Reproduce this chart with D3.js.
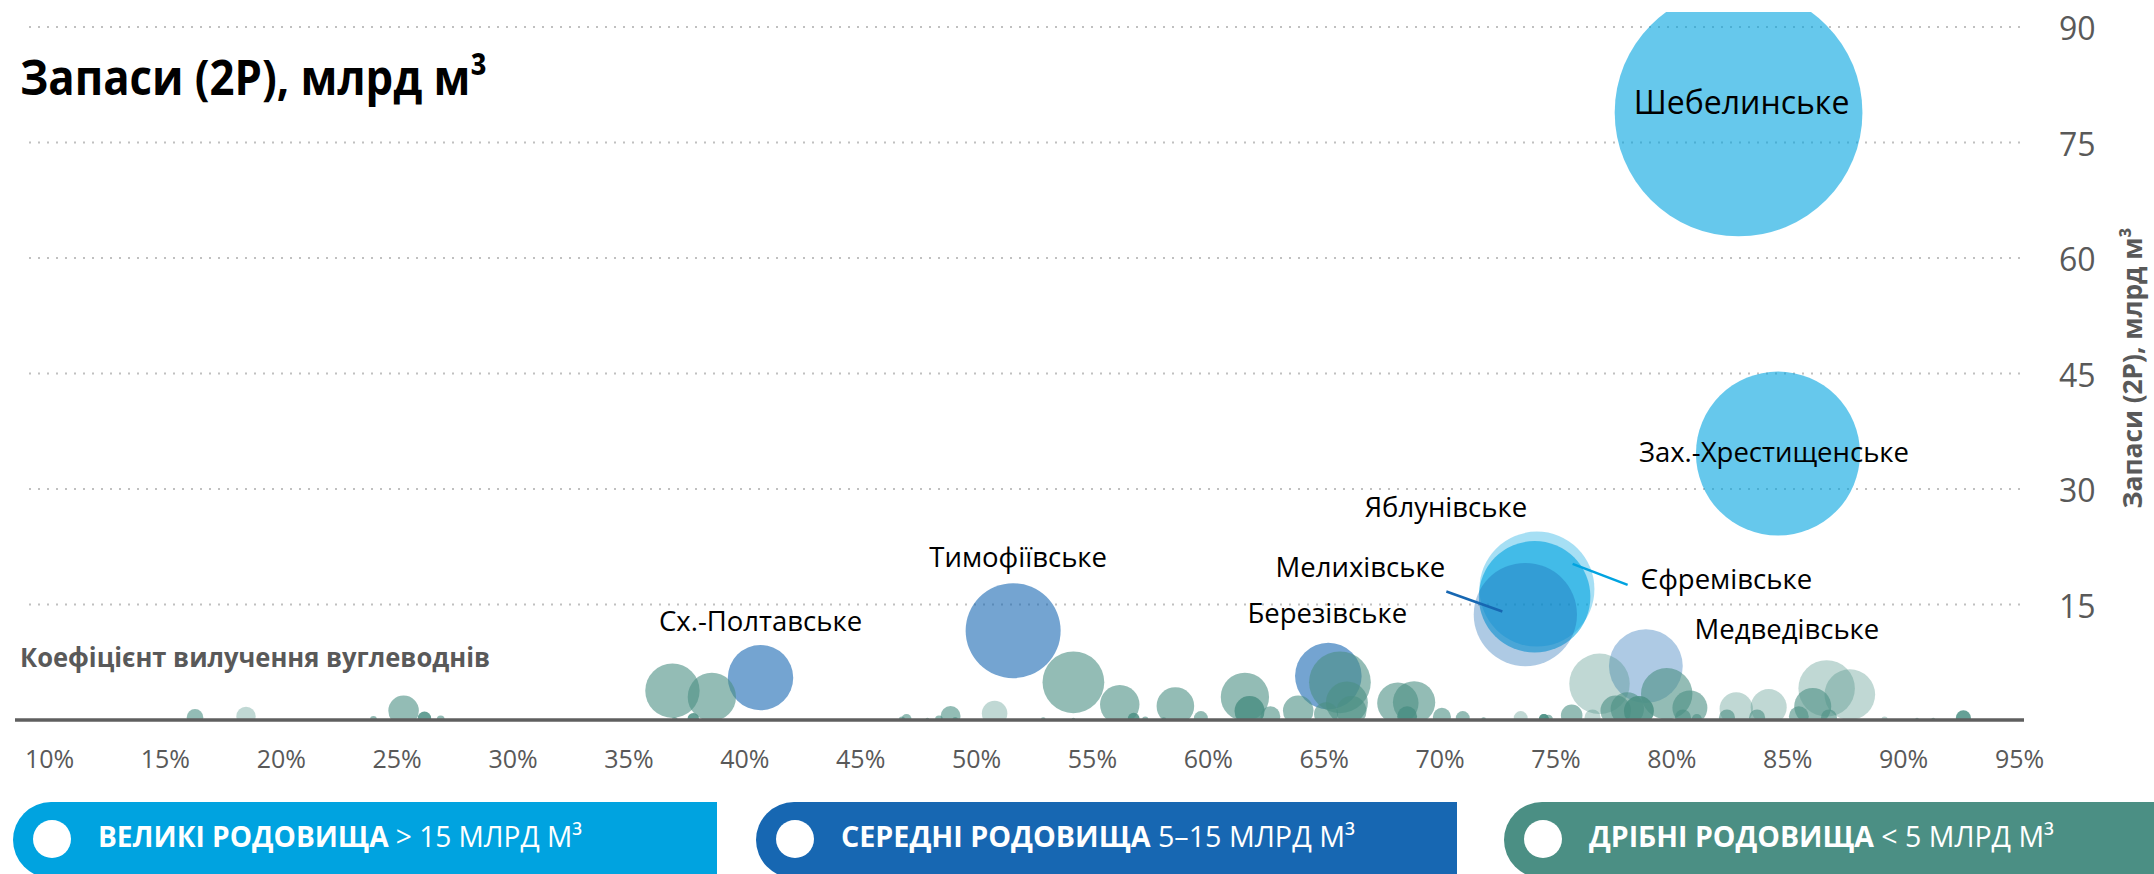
<!DOCTYPE html>
<html>
<head>
<meta charset="utf-8">
<script src="https://cdn.jsdelivr.net/npm/d3@7"></script>
<style>
  body { margin: 0; background: #fff; }
  svg { display: block; font-family: "Open Sans", sans-serif; }
</style>
</head>
<body>
<svg width="2154" height="874"></svg>
<script>
// recovery factor, %
const recovery = [
  82.9, 84.6, 74.2, 74.1,
  73.7, 51.6, 78.9, 65.2, 40.7,
  16.3, 18.5, 24.0, 25.3, 26.2, 26.9,
  36.9, 38.6, 37.0, 37.8, 47.0, 46.8, 47.9, 48.4, 48.9, 49.1, 50.8,
  52.9, 54.2, 54.2, 56.2, 56.8, 57.3, 58.1, 58.6, 59.7, 61.6, 61.8, 62.7, 63.9,
  65.7, 66.0, 66.2, 65.1, 68.2, 68.9, 68.6, 70.1, 71.0, 71.9, 73.5, 74.5, 74.7,
  76.9, 79.8, 78.1, 78.6, 77.6, 80.8, 82.8, 84.2, 86.7, 87.7, 86.1, 75.7, 76.6,
  74.5, 82.4, 83.7, 89.2, 90.6, 91.3, 92.6, 85.5, 86.8, 81.1, 80.5
];
// 2P reserves, bcm
const reserves = [
  78.9, 34.6, 17.0, 16.0,
  13.7, 11.6, 7.0, 5.7, 5.5,
  0.35, 0.48, 0.06, 1.2, 0.23, 0.08,
  3.8, 3.0, 0.04, 0.17, 0.13, 0.05, 0.02, 0.08, 0.51, 0.04, 0.84,
  0.03, 4.9, 0.02, 2.0, 0.18, 0.05, 0.03, 1.82, 0.25, 3.0, 1.16, 0.5, 1.2,
  4.9, 2.27, 1.16, 0.74, 2.2, 2.3, 0.5, 0.42, 0.25, 0.03, 0.25, 0.13, 0.1,
  4.7, 3.4, 1.43, 1.16, 1.2, 1.57, 1.43, 1.67, 4.1, 3.3, 1.76, 0.6, 0.33,
  0.13, 0.33, 0.33, 0.05, 0.02, 0.02, 0.29, 0.5, 0.33, 0.13, 0.33
];
// field stage: 0 faded, 1 normal, 2 deep
const stage = [
  1, 1, 0, 1,
  0, 1, 0, 1, 1,
  1, 0, 1, 1, 2, 1,
  1, 1, 1, 2, 1, 1, 1, 1, 1, 1, 0,
  1, 1, 1, 1, 2, 1, 1, 1, 1, 1, 2, 1, 1,
  1, 1, 1, 1, 1, 1, 2, 1, 1, 1, 0, 1, 1,
  0, 1, 1, 2, 1, 1, 0, 0, 0, 0, 1, 1, 0,
  2, 1, 1, 0, 1, 1, 2, 1, 1, 1, 1
];
const fieldNames = [
  "Шебелинське", "Зах.-Хрестищенське", "Яблунівське", "Єфремівське",
  "Мелихівське", "Тимофіївське", "Медведівське", "Березівське", "Сх.-Полтавське"
];
const xTicks = [10, 15, 20, 25, 30, 35, 40, 45, 50, 55, 60, 65, 70, 75, 80, 85, 90, 95];
const yTicks = [15, 30, 45, 60, 75, 90];
const groups = ["large", "medium", "small"];
const groupColors = ["#00a3e0", "#1767b2", "#4b8f84"];
const legendBold = ["ВЕЛИКІ РОДОВИЩА", "СЕРЕДНІ РОДОВИЩА", "ДРІБНІ РОДОВИЩА"];
const legendRest = [" > 15 МЛРД М³", " 5–15 МЛРД М³", " < 5 МЛРД М³"];

const data = recovery.map((r, i) => ({
  recovery: r,
  reserves: reserves[i],
  stage: stage[i],
  name: fieldNames[i] || null,
  group: reserves[i] > 15 ? "large" : reserves[i] >= 5 ? "medium" : "small"
}));

const svg = d3.select("svg");
const gray = "#595959";

const xs = d3.scaleLinear().domain([10, 95]).range([49, 2019]);
const ys = d3.scaleLinear().domain([0, 90]).range([720, 27]);
const rs = d3.scaleSqrt().domain([0, 90]).range([0, 132.3]);
const color = d3.scaleOrdinal().domain(groups).range(groupColors);
const alpha = d3.scaleOrdinal().domain([0, 1, 2]).range([0.35, 0.6, 0.85]);

// title
svg.append("text").attr("x", 20).attr("y", 95)
  .attr("font-size", 49).attr("font-weight", 700).attr("fill", "#000")
  .attr("textLength", 467).attr("lengthAdjust", "spacingAndGlyphs")
  .text("Запаси (2P), млрд м³");

// dotted gridlines
svg.append("g").selectAll("line").data(yTicks).join("line")
  .attr("x1", 29).attr("x2", 2020)
  .attr("y1", d => ys(d)).attr("y2", d => ys(d))
  .attr("stroke", "#c0c0c0").attr("stroke-width", 2)
  .attr("stroke-dasharray", "2,7");

// y axis on the right
const yAxis = svg.append("g").attr("transform", "translate(2052,0)")
  .call(d3.axisRight(ys).tickValues(yTicks).tickSize(0).tickPadding(7));
yAxis.select(".domain").remove();
yAxis.selectAll("text").attr("font-size", 32).attr("fill", gray)
  .attr("font-family", "Open Sans").attr("dy", "0.4em");

svg.append("text")
  .attr("transform", "translate(2142,368) rotate(-90)")
  .attr("text-anchor", "middle").attr("font-size", 27).attr("font-weight", 700)
  .attr("textLength", 281).attr("lengthAdjust", "spacingAndGlyphs")
  .attr("fill", gray).text("Запаси (2P), млрд м³");

svg.append("text").attr("x", 20).attr("y", 667)
  .attr("font-size", 27).attr("font-weight", 700).attr("fill", gray)
  .attr("textLength", 470).attr("lengthAdjust", "spacingAndGlyphs")
  .text("Коефіцієнт вилучення вуглеводнів");

// bubbles
svg.append("clipPath").attr("id", "plot")
  .append("rect").attr("x", 0).attr("y", 12).attr("width", 2040).attr("height", 708);

const order = d => groups.indexOf(d.group);
const sorted = data.slice().sort((a, b) => order(a) - order(b));

svg.append("g").attr("clip-path", "url(#plot)")
  .selectAll("circle").data(sorted).join("circle")
  .attr("cx", d => xs(d.recovery))
  .attr("cy", d => ys(d.reserves))
  .attr("r", d => rs(d.reserves))
  .attr("fill", d => color(d.group))
  .attr("fill-opacity", d => alpha(d.stage));

// baseline
svg.append("line").attr("x1", 15).attr("x2", 2024)
  .attr("y1", ys(0)).attr("y2", ys(0))
  .attr("stroke", "#5f5f5f").attr("stroke-width", 3.5);

// x axis labels
const xAxis = svg.append("g").attr("transform", "translate(0,720)")
  .call(d3.axisBottom(xs).tickValues(xTicks).tickSize(0).tickPadding(30)
    .tickFormat(d => d + "%"));
xAxis.select(".domain").remove();
xAxis.selectAll("text").attr("font-size", 25).attr("fill", gray)
  .attr("font-family", "Open Sans");

// field labels (offsets from the bubble centre, px)
const labelPlacement = {
  "Шебелинське": { dx: 3, dy: 2, size: 32 },
  "Зах.-Хрестищенське": { dx: -4, dy: 8 },
  "Яблунівське": { dx: -91, dy: -72 },
  "Єфремівське": { dx: 106, dy: -8, anchor: "start", line: [38, -33, 93, -12] },
  "Мелихівське": { dx: -165, dy: -38, line: [-79, -23, -23, -3] },
  "Тимофіївське": { dx: 5, dy: -64 },
  "Медведівське": { dx: 141, dy: -27 },
  "Березівське": { dx: -1, dy: -53 },
  "Сх.-Полтавське": { dx: 0, dy: -47 }
};

const named = data.filter(d => d.name);
const lab = svg.append("g");
named.forEach(d => {
  const p = labelPlacement[d.name];
  const cx = xs(d.recovery), cy = ys(d.reserves);
  if (p.line) {
    lab.append("line")
      .attr("x1", cx + p.line[0]).attr("y1", cy + p.line[1])
      .attr("x2", cx + p.line[2]).attr("y2", cy + p.line[3])
      .attr("stroke", color(d.group)).attr("stroke-width", 2.5);
  }
  lab.append("text")
    .attr("x", cx + p.dx).attr("y", cy + p.dy)
    .attr("text-anchor", p.anchor || "middle")
    .attr("font-size", p.size || 27.5).attr("fill", "#000")
    .text(d.name);
});

// legend pills
const legendX = [13, 756, 1504];
const legendEnd = [717, 1457, 2170];
const legendTextW = [484, 514, 465];
const pillTop = 802, pillH = 76, pr = pillH / 2;
const leg = svg.append("g");
groups.forEach((g, i) => {
  const x0 = legendX[i], x1 = legendEnd[i];
  const path = d3.path();
  path.moveTo(x0 + pr, pillTop);
  path.lineTo(x1, pillTop);
  path.lineTo(x1, pillTop + pillH);
  path.lineTo(x0 + pr, pillTop + pillH);
  path.arc(x0 + pr, pillTop + pr, pr, Math.PI / 2, Math.PI * 1.5);
  path.closePath();
  leg.append("path").attr("d", path.toString()).attr("fill", groupColors[i]);
  leg.append("circle").attr("cx", x0 + 39).attr("cy", 839).attr("r", 19).attr("fill", "#fff");
  const t = leg.append("text").attr("x", x0 + 85).attr("y", 847)
    .attr("font-size", 29).attr("fill", "#fff")
    .attr("textLength", legendTextW[i]).attr("lengthAdjust", "spacingAndGlyphs");
  t.append("tspan").attr("font-weight", 700).text(legendBold[i]);
  t.append("tspan").text(legendRest[i]);
});
</script>
</body>
</html>
